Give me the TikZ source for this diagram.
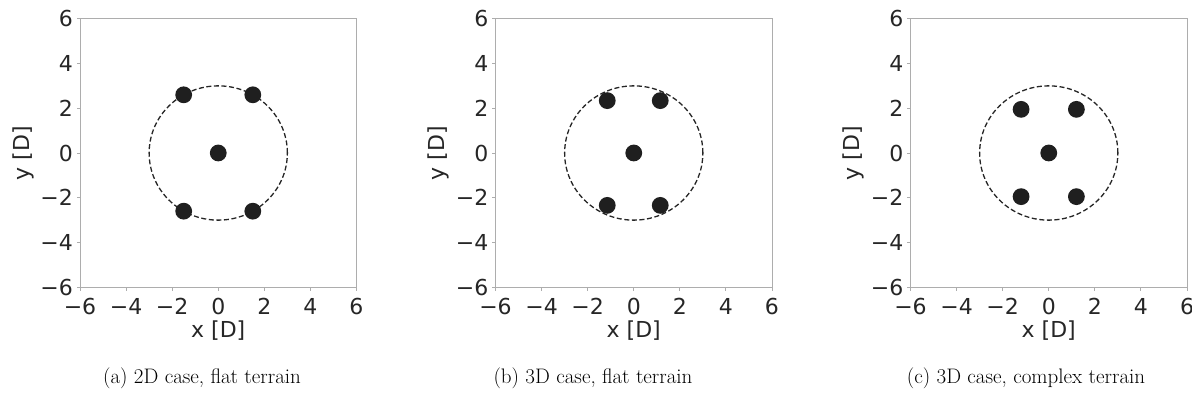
\documentclass[tikz,border=0pt]{standalone}
\usepackage{fontspec}
\newfontfamily\plotfont{DejaVu Sans}
\usetikzlibrary{positioning}

\begin{document}
\begin{tikzpicture}[
  x=1pt, y=1pt,
  spine/.style={draw=black!32, line width=0.9pt},
  tickmark/.style={draw=black!32, line width=0.9pt},
  ticklabel/.style={font=\plotfont\fontsize{22}{26}\selectfont, text=black!85, inner sep=0pt},
  axislabel/.style={ticklabel},
  ring/.style={draw=black!85, line width=1.3pt, dash pattern=on 5pt off 2.6pt},
  rotor/.style={fill=black!88},
  subcap/.style={font=\fontsize{21}{25}\selectfont, anchor=base, inner sep=0pt}
]
\useasboundingbox (0,0) rectangle (1192,401);
\foreach \lft/\cx/\tag/\dx/\dy/\cap in {
    80/202/a/1.5/2.6/{(a) 2D case, flat terrain},
    495.5/593/b/1.15/2.34/{(b) 3D case, flat terrain},
    910.5/1026/c/1.2/1.95/{(c) 3D case, complex terrain}} {
  \begin{scope}[shift={(\lft+138.25,248)}, x=23.04pt, y=22.38pt]
    % axes box and ticks
    \draw[spine] (-6,-6) rectangle (6,6);
    \foreach \t/\lab in {-6/−6, -4/−4, -2/−2, 0/0, 2/2, 4/4, 6/6} {
      \draw[tickmark] (\t,-6) -- ++(0,-3.5pt);
      \draw[tickmark] (-6,\t) -- ++(-3.5pt,0);
      \node[ticklabel, anchor=north] (xt\tag\t) at ([yshift=-10.5pt]\t,-6) {\lab};
      \node[ticklabel, anchor=east] (yt\tag\t) at ([xshift=-7pt]-6,\t) {\lab};
    }
    \node[axislabel, anchor=base] (xlab\tag) at ([yshift=-50pt]0,-6) {x [D]};
    \node[axislabel, rotate=90] (ylab\tag) at ([xshift=-57pt]-6,0) {y [D]};
    % turbines
    \draw[ring] (0,0) circle [radius=3];
    \fill[rotor] (0,0) circle [radius=8.4pt];
    \foreach \sx in {-1,1}
      \foreach \sy in {-1,1}
        \fill[rotor] (\sx*\dx,\sy*\dy) circle [radius=8.4pt];
  \end{scope}
  \node[subcap] (cap\tag) at (\cx,17.5) {\cap};
}
\end{tikzpicture}
\end{document}
